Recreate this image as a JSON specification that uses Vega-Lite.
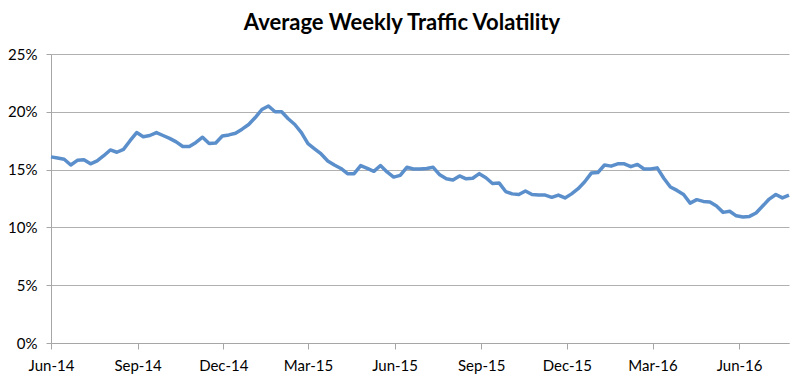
{
  "$schema": "https://vega.github.io/schema/vega-lite/v6.json",
  "autosize": {"type": "none"},
  "width": 738,
  "height": 289,
  "padding": {"left": 51, "top": 54, "right": 11, "bottom": 37},
  "background": "white",
  "title": {
    "text": "Average Weekly Traffic Volatility",
    "font": "Lato",
    "fontSize": 22,
    "fontWeight": "bold",
    "color": "#000000",
    "anchor": "middle",
    "dx": -18,
    "offset": 12
  },
  "config": {
    "view": {"stroke": null},
    "axis": {
      "labelFont": "Lato",
      "labelFontSize": 15,
      "labelColor": "#000000",
      "domainColor": "#a6a6a6",
      "tickColor": "#a6a6a6",
      "gridColor": "#b0b0b0",
      "domainWidth": 1,
      "tickWidth": 1,
      "gridWidth": 1
    }
  },
  "data": {
    "values": [
      {"date": "2014-06-01", "v": 0.161},
      {"date": "2014-06-08", "v": 0.160},
      {"date": "2014-06-15", "v": 0.159},
      {"date": "2014-06-22", "v": 0.154},
      {"date": "2014-06-29", "v": 0.158},
      {"date": "2014-07-06", "v": 0.1585},
      {"date": "2014-07-13", "v": 0.155},
      {"date": "2014-07-20", "v": 0.1575},
      {"date": "2014-07-27", "v": 0.162},
      {"date": "2014-08-03", "v": 0.167},
      {"date": "2014-08-10", "v": 0.165},
      {"date": "2014-08-17", "v": 0.1675},
      {"date": "2014-08-24", "v": 0.175},
      {"date": "2014-08-31", "v": 0.182},
      {"date": "2014-09-07", "v": 0.1785},
      {"date": "2014-09-14", "v": 0.1795},
      {"date": "2014-09-21", "v": 0.182},
      {"date": "2014-09-28", "v": 0.1795},
      {"date": "2014-10-05", "v": 0.177},
      {"date": "2014-10-12", "v": 0.174},
      {"date": "2014-10-19", "v": 0.170},
      {"date": "2014-10-26", "v": 0.170},
      {"date": "2014-11-02", "v": 0.1735},
      {"date": "2014-11-09", "v": 0.178},
      {"date": "2014-11-16", "v": 0.1725},
      {"date": "2014-11-23", "v": 0.173},
      {"date": "2014-11-30", "v": 0.179},
      {"date": "2014-12-07", "v": 0.180},
      {"date": "2014-12-14", "v": 0.1815},
      {"date": "2014-12-21", "v": 0.185},
      {"date": "2014-12-28", "v": 0.189},
      {"date": "2015-01-04", "v": 0.195},
      {"date": "2015-01-11", "v": 0.202},
      {"date": "2015-01-18", "v": 0.205},
      {"date": "2015-01-25", "v": 0.200},
      {"date": "2015-02-01", "v": 0.200},
      {"date": "2015-02-08", "v": 0.194},
      {"date": "2015-02-15", "v": 0.189},
      {"date": "2015-02-22", "v": 0.182},
      {"date": "2015-03-01", "v": 0.1725},
      {"date": "2015-03-08", "v": 0.168},
      {"date": "2015-03-15", "v": 0.1635},
      {"date": "2015-03-22", "v": 0.1575},
      {"date": "2015-03-29", "v": 0.154},
      {"date": "2015-04-05", "v": 0.151},
      {"date": "2015-04-12", "v": 0.1465},
      {"date": "2015-04-19", "v": 0.1465},
      {"date": "2015-04-26", "v": 0.1535},
      {"date": "2015-05-03", "v": 0.151},
      {"date": "2015-05-10", "v": 0.1485},
      {"date": "2015-05-17", "v": 0.1535},
      {"date": "2015-05-24", "v": 0.148},
      {"date": "2015-05-31", "v": 0.1435},
      {"date": "2015-06-07", "v": 0.145},
      {"date": "2015-06-14", "v": 0.152},
      {"date": "2015-06-21", "v": 0.1505},
      {"date": "2015-06-28", "v": 0.1505},
      {"date": "2015-07-05", "v": 0.151},
      {"date": "2015-07-12", "v": 0.152},
      {"date": "2015-07-19", "v": 0.1455},
      {"date": "2015-07-26", "v": 0.142},
      {"date": "2015-08-02", "v": 0.141},
      {"date": "2015-08-09", "v": 0.1445},
      {"date": "2015-08-16", "v": 0.142},
      {"date": "2015-08-23", "v": 0.1425},
      {"date": "2015-08-30", "v": 0.1465},
      {"date": "2015-09-06", "v": 0.143},
      {"date": "2015-09-13", "v": 0.138},
      {"date": "2015-09-20", "v": 0.1385},
      {"date": "2015-09-27", "v": 0.131},
      {"date": "2015-10-04", "v": 0.129},
      {"date": "2015-10-11", "v": 0.1285},
      {"date": "2015-10-18", "v": 0.1315},
      {"date": "2015-10-25", "v": 0.1285},
      {"date": "2015-11-01", "v": 0.128},
      {"date": "2015-11-08", "v": 0.128},
      {"date": "2015-11-15", "v": 0.126},
      {"date": "2015-11-22", "v": 0.128},
      {"date": "2015-11-29", "v": 0.1255},
      {"date": "2015-12-06", "v": 0.129},
      {"date": "2015-12-13", "v": 0.1335},
      {"date": "2015-12-20", "v": 0.1395},
      {"date": "2015-12-27", "v": 0.147},
      {"date": "2016-01-03", "v": 0.1475},
      {"date": "2016-01-10", "v": 0.154},
      {"date": "2016-01-17", "v": 0.153},
      {"date": "2016-01-24", "v": 0.155},
      {"date": "2016-01-31", "v": 0.155},
      {"date": "2016-02-07", "v": 0.1525},
      {"date": "2016-02-14", "v": 0.1545},
      {"date": "2016-02-21", "v": 0.1505},
      {"date": "2016-02-28", "v": 0.1505},
      {"date": "2016-03-06", "v": 0.1515},
      {"date": "2016-03-13", "v": 0.1425},
      {"date": "2016-03-20", "v": 0.135},
      {"date": "2016-03-27", "v": 0.132},
      {"date": "2016-04-03", "v": 0.1285},
      {"date": "2016-04-10", "v": 0.121},
      {"date": "2016-04-17", "v": 0.124},
      {"date": "2016-04-24", "v": 0.1225},
      {"date": "2016-05-01", "v": 0.122},
      {"date": "2016-05-08", "v": 0.1185},
      {"date": "2016-05-15", "v": 0.113},
      {"date": "2016-05-22", "v": 0.114},
      {"date": "2016-05-29", "v": 0.110},
      {"date": "2016-06-05", "v": 0.109},
      {"date": "2016-06-12", "v": 0.1095},
      {"date": "2016-06-19", "v": 0.1125},
      {"date": "2016-06-26", "v": 0.1185},
      {"date": "2016-07-03", "v": 0.1245},
      {"date": "2016-07-10", "v": 0.1285},
      {"date": "2016-07-17", "v": 0.1255},
      {"date": "2016-07-24", "v": 0.128}
    ]
  },
  "mark": {"type": "line", "color": "#5b8fcb", "strokeWidth": 3.5, "strokeJoin": "round"},
  "encoding": {
    "x": {
      "field": "date",
      "type": "temporal",
      "scale": {
        "type": "utc",
        "nice": false,
        "domain": [
          {"year": 2014, "month": 6, "date": 1, "utc": true},
          {"year": 2016, "month": 7, "date": 24, "utc": true}
        ]
      },
      "axis": {
        "title": null,
        "grid": false,
        "format": "%b-%y",
        "values": [
          {"year": 2014, "month": 6, "date": 1, "utc": true},
          {"year": 2014, "month": 9, "date": 1, "utc": true},
          {"year": 2014, "month": 12, "date": 1, "utc": true},
          {"year": 2015, "month": 3, "date": 1, "utc": true},
          {"year": 2015, "month": 6, "date": 1, "utc": true},
          {"year": 2015, "month": 9, "date": 1, "utc": true},
          {"year": 2015, "month": 12, "date": 1, "utc": true},
          {"year": 2016, "month": 3, "date": 1, "utc": true},
          {"year": 2016, "month": 6, "date": 1, "utc": true}
        ],
        "tickSize": 6,
        "labelPadding": 9,
        "labelFlush": false,
        "labelOverlap": false
      }
    },
    "y": {
      "field": "v",
      "type": "quantitative",
      "scale": {"domain": [0, 0.25], "nice": false, "zero": true},
      "axis": {
        "title": null,
        "grid": true,
        "format": ".0%",
        "values": [0, 0.05, 0.1, 0.15, 0.2, 0.25],
        "tickSize": 5,
        "labelPadding": 9
      }
    }
  }
}
